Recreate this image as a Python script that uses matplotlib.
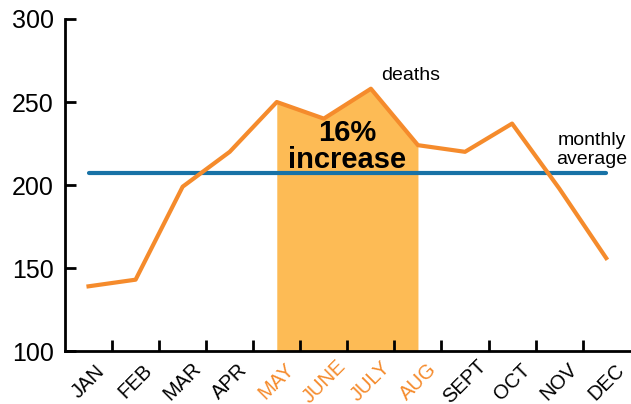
# Monthly deaths vs monthly average, with the May-Aug stretch highlighted
import matplotlib.pyplot as plt
import numpy as np

plt.rcParams['font.family'] = ['Liberation Sans', 'DejaVu Sans']

months = ['JAN', 'FEB', 'MAR', 'APR', 'MAY', 'JUNE', 'JULY', 'AUG',
          'SEPT', 'OCT', 'NOV', 'DEC']
deaths = [139, 143, 199, 220, 250, 240, 258, 224, 220, 237, 198, 156]
monthly_average = 207
highlight = ['MAY', 'JUNE', 'JULY', 'AUG']

orange = '#F58B2C'
fill_orange = '#FDBB55'
blue = '#1872A6'

x = np.arange(len(months))
hl = np.array([m in highlight for m in months])

fig = plt.figure(figsize=(6.31, 4.04), dpi=100)
ax = fig.add_axes([0.103, 0.131, 0.895, 0.822])

ax.fill_between(x[hl], 100, np.array(deaths)[hl], color=fill_orange, lw=0, zorder=1)
ax.plot(x, deaths, color=orange, lw=3, zorder=3)
ax.plot([x[0], x[-1]], [monthly_average] * 2, color=blue, lw=3, zorder=2,
        solid_capstyle='round')

ax.set_xlim(-0.5, 11.5)
ax.set_ylim(100, 300)
ax.set_yticks([100, 150, 200, 250, 300])
ax.set_xticks(x[:-1] + 0.5)
ax.set_xticks(x, minor=True)
ax.set_xticklabels([])
ax.set_xticklabels(months, minor=True, rotation=45, ha='center', va='center',
                   rotation_mode='anchor', fontsize=14.5)
for lbl, m in zip(ax.get_xticklabels(minor=True), months):
    if m in highlight:
        lbl.set_color(orange)

ax.tick_params(axis='y', direction='in', length=8, width=2, labelsize=18, pad=8)
ax.tick_params(axis='x', which='major', direction='in', length=8, width=2)
ax.tick_params(axis='x', which='minor', length=0, pad=22)

for s in ['top', 'right']:
    ax.spines[s].set_visible(False)
for s in ['left', 'bottom']:
    ax.spines[s].set_linewidth(2)

ax.text(6.85, 266, 'deaths', fontsize=14, ha='center', va='center')
ax.text(5.5, 223, '16%\nincrease', fontsize=21, fontweight='bold',
        ha='center', va='center', linespacing=0.95)
ax.text(10.7, 221, 'monthly\naverage', fontsize=14, ha='center', va='center',
        linespacing=1.15)

fig.savefig('out.png', dpi=100)
